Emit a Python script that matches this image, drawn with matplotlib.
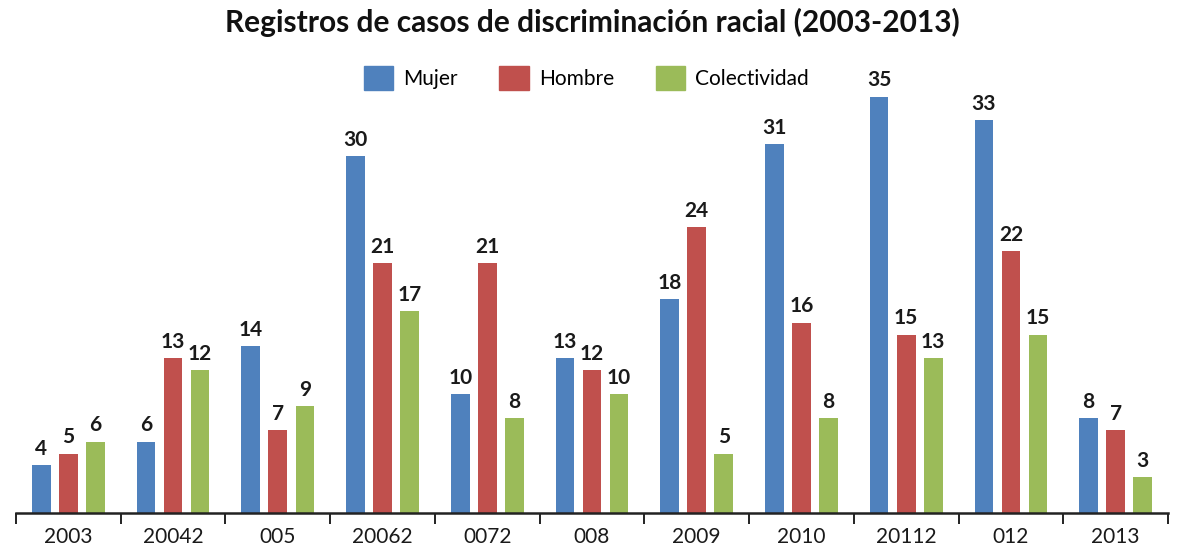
import matplotlib
matplotlib.use('Agg')
import numpy as np
import matplotlib.pyplot as plt
from matplotlib.patches import Patch

plt.rcParams['font.family'] = ['Lato', 'DejaVu Sans']

# data
years = ["2003", "20042", "005", "20062", "0072", "008", "2009", "2010", "20112", "012", "2013"]
mujer = [4, 6, 14, 30, 10, 13, 18, 31, 35, 33, 8]
hombre = [5, 13, 7, 21, 21, 12, 24, 16, 15, 22, 7]
colectividad = [6, 12, 9, 17, 8, 10, 5, 8, 13, 15, 3]

c_blue = '#4F81BD'
c_red = '#C0504D'
c_green = '#9BBB59'

fig = plt.figure(figsize=(11.8, 5.52), dpi=100)
ax = fig.add_axes([16/1180, 1 - 513/552, (1168 - 16)/1180, 476/552])

ind = np.arange(len(years))
width = 0.178
off = 0.258

series = [(mujer, c_blue, -off), (hombre, c_red, 0), (colectividad, c_green, off)]
for vals, col, dx in series:
    bars = ax.bar(ind + dx, vals, width, color=col)
    for b, v in zip(bars, vals):
        ax.text(b.get_x() + b.get_width()/2, v + 0.85, str(v), ha='center', va='baseline',
                fontsize=15, fontweight='bold', color='#1a1a1a')

ax.set_xlim(-0.5, len(years) - 0.5)
ax.set_ylim(0, 40)

for s in ['left', 'right', 'top']:
    ax.spines[s].set_visible(False)
ax.spines['bottom'].set_linewidth(1.8)
ax.spines['bottom'].set_color('#222222')
ax.set_yticks([])

ax.set_xticks(ind)
ax.set_xticklabels(years, fontsize=15, color='#1a1a1a')
ax.tick_params(axis='x', which='major', length=0, pad=10)
ax.set_xticks(np.arange(-0.5, len(years)), minor=True)
ax.tick_params(axis='x', which='minor', length=8, width=1.4, direction='out', color='#222222')

fig.text(0.502, 1 - 22/552, 'Registros de casos de discriminación racial (2003-2013)',
         ha='center', va='center', fontsize=21.5, fontweight='bold', color='#111111')

handles = [Patch(color=c_blue, label='Mujer'), Patch(color=c_red, label='Hombre'),
           Patch(color=c_green, label='Colectividad')]
fig.legend(handles=handles, loc='center', bbox_to_anchor=(0.497, 1 - 78/552), ncol=3,
           frameon=False, fontsize=15, handlelength=1.4, handleheight=1.4,
           columnspacing=2.0, handletextpad=0.5)

fig.savefig('out.png', dpi=100)
